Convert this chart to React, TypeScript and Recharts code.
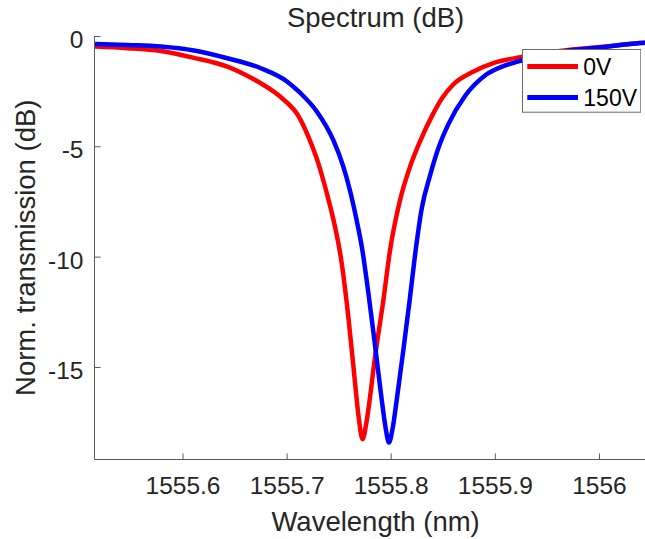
import React from 'react';
import { LineChart, Line, XAxis, YAxis, Legend, Label } from 'recharts';

// ---- data ----
const redWavelength = [
  1555.5155, 1555.5465, 1555.5786, 1555.6106, 1555.6426, 1555.6644, 1555.6747, 1555.6964,
  1555.7108, 1555.7153, 1555.7204, 1555.73, 1555.7381, 1555.746, 1555.7515, 1555.7588,
  1555.7653, 1555.7686, 1555.7725, 1555.7758, 1555.778, 1555.7845, 1555.7925, 1555.7989,
  1555.8085, 1555.8181, 1555.8277, 1555.8392, 1555.8488, 1555.8591, 1555.8786, 1555.8988,
  1555.9238, 1555.968, 1556.0006, 1556.0391, 1556.0545,
];
const redDb = [
  -0.46, -0.53, -0.66, -0.97, -1.37, -1.85, -2.12, -2.85,
  -3.6, -4.0, -4.54, -5.75, -7.1, -8.62, -9.98, -12.7,
  -15.72, -17.2, -18.25, -17.6, -16.93, -14.5, -11.94, -9.68,
  -7.41, -5.9, -4.75, -3.6, -2.8, -2.2, -1.6, -1.2,
  -0.94, -0.62, -0.48, -0.3, -0.25,
];
const blueWavelength = [
  1555.5155, 1555.5465, 1555.5786, 1555.6106, 1555.6426, 1555.6747, 1555.7002, 1555.7124,
  1555.7285, 1555.7444, 1555.754, 1555.7605, 1555.7669, 1555.772, 1555.778, 1555.7845,
  1555.7909, 1555.7945, 1555.7978, 1555.8012, 1555.8053, 1555.8117, 1555.8181, 1555.8229,
  1555.8293, 1555.8373, 1555.845, 1555.8552, 1555.8709, 1555.8907, 1555.9103, 1555.9244,
  1555.968, 1556.0006, 1556.0391, 1556.0545,
];
const blueDb = [
  -0.34, -0.39, -0.46, -0.64, -0.99, -1.44, -2.05, -2.55,
  -3.4, -4.7, -5.9, -7.0, -8.35, -9.6, -11.6, -14.0,
  -16.47, -17.7, -18.4, -17.8, -16.47, -14.2, -11.8, -9.9,
  -7.8, -6.3, -5.1, -3.95, -2.7, -1.75, -1.3, -1.1,
  -0.66, -0.5, -0.3, -0.25,
];
const seriesNames = ['0V', '150V'];
const xTicks = [1555.6, 1555.7, 1555.8, 1555.9, 1556];
const yTicks = [0, -5, -10, -15];
const xDomain = [1555.515, 1556.055];
const yDomain = [-19.17, 0.02];
const titleText = 'Spectrum (dB)';
const xLabelText = 'Wavelength (nm)';
const yLabelText = 'Norm. transmission (dB)';

const redData = redWavelength.map((x, i) => ({ x, y: redDb[i] }));
const blueData = blueWavelength.map((x, i) => ({ x, y: blueDb[i] }));

const FONT = '"Liberation Sans", Arial, Helvetica, sans-serif';
const TEXT = '#262626';
const AXIS = '#5a5a5a';
const TICK_FS = 24.5;
const LABEL_FS = 27.5;

const BottomTick = (props: any) => {
  const { x, y, payload } = props;
  return (
    <g>
      <line x1={x} x2={x} y1={y} y2={y - 6} stroke={AXIS} strokeWidth={1} />
      <text x={x} y={y + 34.5} textAnchor="middle" fill={TEXT} fontSize={TICK_FS} fontFamily={FONT}>
        {String(payload.value)}
      </text>
    </g>
  );
};

const TopTick = (props: any) => {
  const { x, y } = props;
  return <line x1={x} x2={x} y1={y} y2={y + 6} stroke={AXIS} strokeWidth={1} />;
};

const LeftTick = (props: any) => {
  const { x, y, payload } = props;
  return (
    <g>
      <line x1={x} x2={x + 6} y1={y} y2={y} stroke={AXIS} strokeWidth={1} />
      <text x={x - 11} y={y + 11.6} textAnchor="end" fill={TEXT} fontSize={TICK_FS} fontFamily={FONT}>
        {String(payload.value)}
      </text>
    </g>
  );
};

const renderLegend = (props: any) => {
  const payload = props.payload || [];
  const w = 119.3;
  const h = 63.7;
  return (
    <svg width={w} height={h} style={{ display: 'block' }}>
      <rect x={0.5} y={0.5} width={w - 1} height={h - 1} fill="#ffffff" stroke="#6a6a6a" strokeWidth={1} />
      {payload.map((p: any, i: number) => {
        const cy = 17.4 + i * 31;
        return (
          <g key={i}>
            <line x1={5.3} x2={56} y1={cy} y2={cy} stroke={p.color} strokeWidth={5} />
            <text x={61.3} y={cy + 9} fill="#000" fontSize={23} fontFamily={FONT}>
              {p.value}
            </text>
          </g>
        );
      })}
    </svg>
  );
};

export default function App() {
  return (
    <div
      style={{
        position: 'absolute',
        left: 0,
        top: 0,
        width: 645,
        height: 539,
        overflow: 'hidden',
        background: '#ffffff',
      }}
    >
      <LineChart width={700} height={539} margin={{ top: 36, right: 43.3, bottom: 0, left: 0 }}>
        <XAxis
          xAxisId="bottom"
          type="number"
          dataKey="x"
          domain={xDomain}
          ticks={xTicks}
          interval={0}
          allowDataOverflow
          height={79.5}
          tickLine={false}
          tickSize={0}
          tickMargin={0}
          tick={<BottomTick />}
          axisLine={{ stroke: AXIS, strokeWidth: 1 }}
        >
          <Label
            content={(p: any) => {
              const vb = p.viewBox || { x: 94.5, width: 562.2 };
              const cx = vb.x + vb.width / 2;
              return (
                <g>
                  <text x={cx} y={530.7} textAnchor="middle" fill={TEXT} fontSize={LABEL_FS} fontFamily={FONT}>
                    {xLabelText}
                  </text>
                  <text x={cx} y={27} textAnchor="middle" fill={TEXT} fontSize={LABEL_FS} fontFamily={FONT}>
                    {titleText}
                  </text>
                </g>
              );
            }}
          />
        </XAxis>
        <XAxis
          xAxisId="top"
          orientation="top"
          type="number"
          dataKey="x"
          domain={xDomain}
          ticks={xTicks}
          interval={0}
          allowDataOverflow
          height={0}
          tickLine={false}
          tickSize={0}
          tickMargin={0}
          tick={<TopTick />}
          axisLine={{ stroke: AXIS, strokeWidth: 1 }}
        />
        <YAxis
          yAxisId="left"
          type="number"
          domain={yDomain}
          ticks={yTicks}
          interval={0}
          allowDataOverflow
          width={94.5}
          tickLine={false}
          tickSize={0}
          tickMargin={0}
          tick={<LeftTick />}
          axisLine={{ stroke: AXIS, strokeWidth: 1 }}
        >
          <Label
            content={(p: any) => {
              const vb = p.viewBox || { y: 36, height: 423.5 };
              const cy = vb.y + vb.height / 2;
              return (
                <text
                  x={35}
                  y={cy}
                  transform={`rotate(-90, 35, ${cy})`}
                  textAnchor="middle"
                  fill={TEXT}
                  fontSize={LABEL_FS}
                  fontFamily={FONT}
                >
                  {yLabelText}
                </text>
              );
            }}
          />
        </YAxis>
        <Line
          xAxisId="bottom"
          yAxisId="left"
          data={redData}
          dataKey="y"
          name={seriesNames[0]}
          type="monotone"
          stroke="#ff0000"
          strokeWidth={4.5}
          dot={false}
          activeDot={false}
          isAnimationActive={false}
        />
        <Line
          xAxisId="bottom"
          yAxisId="left"
          data={blueData}
          dataKey="y"
          name={seriesNames[1]}
          type="monotone"
          stroke="#0000ff"
          strokeWidth={4.5}
          dot={false}
          activeDot={false}
          isAnimationActive={false}
        />
        <Legend
          layout="vertical"
          align="center"
          verticalAlign="middle"
          content={renderLegend}
          wrapperStyle={{ left: 521.7, top: 49.3, width: 120, height: 64, right: 'auto', bottom: 'auto' }}
        />
      </LineChart>
    </div>
  );
}
